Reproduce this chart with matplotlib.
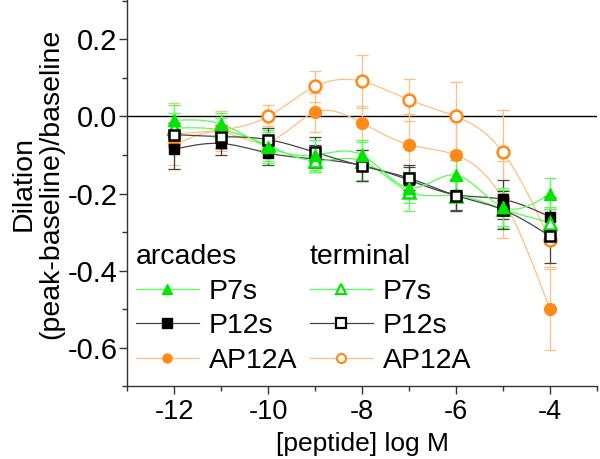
import numpy as np
import matplotlib
matplotlib.use("Agg")
import matplotlib.pyplot as plt
from matplotlib.lines import Line2D
from matplotlib.ticker import MultipleLocator

plt.rcParams['font.family'] = ['Liberation Sans', 'DejaVu Sans']

x = [-12, -11, -10, -9, -8, -7, -6, -5, -4]

p7s_arc = [-0.010, -0.020, -0.080, -0.100, -0.100, -0.185, -0.152, -0.235, -0.200]
p7s_term = [-0.030, -0.035, -0.075, -0.115, -0.115, -0.195, -0.205, -0.240, -0.275]
p12s_arc = [-0.085, -0.070, -0.095, -0.110, -0.127, -0.165, -0.203, -0.215, -0.260]
p12s_term = [-0.047, -0.052, -0.060, -0.093, -0.128, -0.160, -0.205, -0.242, -0.310]
ap12a_arc = [-0.075, -0.040, -0.065, 0.011, -0.017, -0.073, -0.100, -0.215, -0.500]
ap12a_term = [-0.045, -0.035, 0.000, 0.078, 0.091, 0.043, 0.000, -0.093, -0.320]

p7s_arc_err = [0.04, 0.03, 0.04, 0.04, 0.04, 0.04, 0.04, 0.05, 0.04]
p7s_term_err = [0.04, 0.03, 0.04, 0.03, 0.05, 0.05, 0.04, 0.05, 0.04]
p12s_arc_err = [0.05, 0.03, 0.03, 0.035, 0.04, 0.04, 0.04, 0.05, 0.05]
p12s_term_err = [0.03, 0.03, 0.03, 0.04, 0.04, 0.03, 0.04, 0.05, 0.07]
ap12a_arc_err = [0.06, 0.05, 0.04, 0.05, 0.045, 0.08, 0.10, 0.10, 0.105]
ap12a_term_err = [0.08, 0.05, 0.03, 0.04, 0.069, 0.055, 0.09, 0.11, 0.07]

xticks = [-12, -10, -8, -6, -4]
yticks = [0.2, 0.0, -0.2, -0.4, -0.6]


def natural_spline(xs, ys, n=300):
    xs = np.asarray(xs, float)
    ys = np.asarray(ys, float)
    m = len(xs)
    h = np.diff(xs)
    A = np.zeros((m, m))
    b = np.zeros(m)
    A[0, 0] = 1
    A[-1, -1] = 1
    for i in range(1, m - 1):
        A[i, i - 1] = h[i - 1]
        A[i, i] = 2 * (h[i - 1] + h[i])
        A[i, i + 1] = h[i]
        b[i] = 3 * ((ys[i + 1] - ys[i]) / h[i] - (ys[i] - ys[i - 1]) / h[i - 1])
    c = np.linalg.solve(A, b)
    xx = np.linspace(xs[0], xs[-1], n)
    yy = np.empty_like(xx)
    for k, xv in enumerate(xx):
        i = min(np.searchsorted(xs, xv, side='right') - 1, m - 2)
        dx = xv - xs[i]
        bi = (ys[i + 1] - ys[i]) / h[i] - h[i] * (2 * c[i] + c[i + 1]) / 3
        di = (c[i + 1] - c[i]) / (3 * h[i])
        yy[k] = ys[i] + bi * dx + c[i] * dx ** 2 + di * dx ** 3
    return xx, yy


fig = plt.figure(figsize=(6.0, 4.59), dpi=100)
ax = fig.add_axes([0.212, 0.158, 0.783, 0.842])

GREEN = '#00e600'
GREEN_L = '#55ff55'
BLACK = '#000000'
BLACK_L = '#444444'
ORANGE = '#ff8a1a'
ORANGE_L = '#ffbf80'

ax.axhline(0, color='black', lw=1.0, zorder=1)

series = [
    (ap12a_arc, ap12a_arc_err, 'o', ORANGE, ORANGE, ORANGE_L, 8.5, 1.0),
    (ap12a_term, ap12a_term_err, 'o', 'white', ORANGE, ORANGE_L, 8.5, 1.8),
    (p12s_arc, p12s_arc_err, 's', BLACK, BLACK, BLACK_L, 7, 1.0),
    (p7s_term, p7s_term_err, '^', 'white', GREEN, GREEN_L, 8.5, 1.8),
    (p12s_term, p12s_term_err, 's', 'white', BLACK, BLACK_L, 7, 1.8),
    (p7s_arc, p7s_arc_err, '^', GREEN, GREEN, GREEN_L, 8.5, 1.0),
]

for i, (ys, es, mk, fc, ec, lc, ms, mew) in enumerate(series):
    xx, yy = natural_spline(x, ys)
    ax.plot(xx, yy, color=lc, lw=0.9, zorder=2 + i * 0.1)
    ax.errorbar(x, ys, yerr=es, fmt='none', ecolor=lc, elinewidth=0.9,
                capsize=4, capthick=0.9, zorder=2.5 + i * 0.1)
    ax.plot(x, ys, linestyle='none', marker=mk, markersize=ms,
            markerfacecolor=fc, markeredgecolor=ec, markeredgewidth=mew,
            zorder=4 + i * 0.1)

ax.set_xlim(-13, -3)
ax.set_ylim(-0.7, 0.302)
ax.set_xticks(xticks)
ax.set_xticklabels([f"{v:d}" for v in xticks])
ax.set_yticks(yticks)
ax.set_yticklabels([f"{v:.1f}" for v in yticks])
ax.xaxis.set_minor_locator(MultipleLocator(1))
ax.yaxis.set_minor_locator(MultipleLocator(0.1))
ax.tick_params(axis='both', which='major', direction='out', length=6,
               width=1, color='#333333')
ax.tick_params(axis='both', which='minor', direction='out', length=3.5,
               width=1, color='#333333')
ax.tick_params(axis='y', which='major', labelsize=21, pad=1)
ax.tick_params(axis='x', which='major', labelsize=19.5, pad=3)
for s in ['top', 'right']:
    ax.spines[s].set_visible(False)
for s in ['left', 'bottom']:
    ax.spines[s].set_color('#333333')
    ax.spines[s].set_linewidth(1.0)

ax.set_xlabel('[peptide] log M', fontsize=19, labelpad=5)
ax.set_ylabel('Dilation\n(peak-baseline)/baseline', fontsize=20.5,
              linespacing=1.05)
ax.yaxis.set_label_coords(-0.135, 0.525)


def handle(mk, fc, ec, lc, mew):
    return Line2D([0], [0], color=lc, lw=0.9, marker=mk, markersize=6.5,
                  markerfacecolor=fc, markeredgecolor=ec, markeredgewidth=mew)


labels = ['P7s', 'P12s', 'AP12A']
arc_h = [handle('^', GREEN, GREEN, GREEN_L, 1.0),
         handle('s', BLACK, BLACK, BLACK_L, 1.0),
         handle('o', ORANGE, ORANGE, ORANGE_L, 1.0)]
term_h = [handle('^', 'white', GREEN, GREEN_L, 1.6),
          handle('s', 'white', BLACK, BLACK_L, 1.6),
          handle('o', 'white', ORANGE, ORANGE_L, 1.6)]

common = dict(frameon=False, fontsize=20.5, title_fontsize=20.5,
              handlelength=2.2, handletextpad=0.35, labelspacing=0.3,
              borderpad=0, borderaxespad=0, alignment='left', loc='upper left')
leg1 = ax.legend(arc_h, labels, title='arcades',
                 bbox_to_anchor=(136 / 600, 1 - 244 / 459),
                 bbox_transform=fig.transFigure, **common)
ax.add_artist(leg1)
leg2 = ax.legend(term_h, labels, title='terminal',
                 bbox_to_anchor=(310 / 600, 1 - 244 / 459),
                 bbox_transform=fig.transFigure, **common)

fig.savefig('out.png', dpi=100)
